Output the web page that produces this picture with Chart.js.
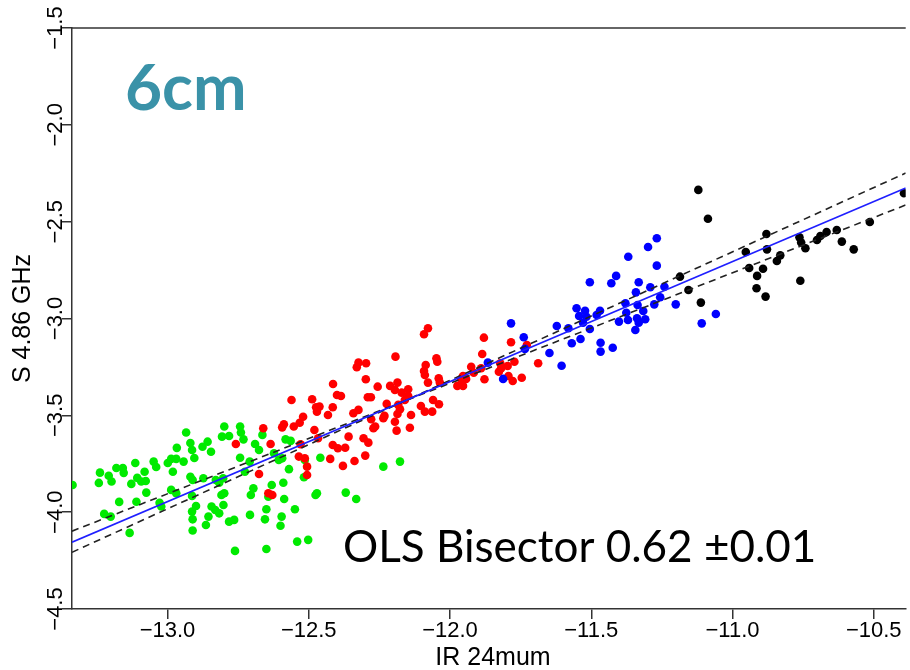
<!DOCTYPE html>
<html lang="en">
<head>
<meta charset="UTF-8">
<title>6cm - OLS Bisector</title>
<script src="https://cdn.jsdelivr.net/npm/chart.js@4"></script>
<style>
  html, body { margin: 0; padding: 0; background: #fff; }
  #wrap { position: relative; width: 910px; height: 670px; }
</style>
</head>
<body>
<div id="wrap"><canvas id="grafico"></canvas></div>
<script>
// axis ticks
const xTicks = [-13.0, -12.5, -12.0, -11.5, -11.0, -10.5];
const yTicks = [-4.5, -4.0, -3.5, -3.0, -2.5, -2.0, -1.5];

// green points
const greenX = [
  -13.336, -13.239, -13.243, -13.208, -13.198, -13.181, -13.158, -13.155, -13.114, -13.128,
  -13.107, -13.093, -13.077, -13.081, -13.049, -13.040, -13.075, -13.171, -13.110, -13.224,
  -13.201, -13.134, -13.028, -13.022, -12.999, -12.987, -12.969, -12.981, -12.967, -12.943,
  -12.934, -12.919, -12.913, -12.905, -12.876, -12.858, -12.846, -12.919, -12.911, -12.873,
  -12.987, -12.969, -12.913, -12.899, -12.913, -12.911, -12.911, -12.864, -12.855, -12.844,
  -12.829, -12.817, -12.803, -12.809, -12.799, -12.831, -12.817, -12.802, -12.782, -12.764,
  -12.761, -12.807, -12.799, -12.782, -12.743, -12.740, -12.731, -12.743, -12.726, -12.709,
  -12.690, -12.676, -12.664, -12.705, -12.696, -12.708, -12.655, -12.650, -12.643, -12.631,
  -12.650, -12.623, -12.606, -12.594, -12.570, -12.582, -12.590, -12.587, -12.596, -12.600,
  -12.549, -12.541, -12.502, -12.514, -12.517, -12.476, -12.471, -12.459, -12.369, -12.332,
  -12.236, -12.177, -12.564
];
const greenY = [
  -3.860, -3.796, -3.849, -3.812, -3.842, -3.772, -3.772, -3.797, -3.746, -3.854,
  -3.823, -3.842, -3.839, -3.791, -3.739, -3.767, -3.899, -3.947, -3.946, -4.009,
  -4.023, -4.107, -3.952, -3.971, -3.746, -3.725, -3.725, -3.791, -3.668, -3.739,
  -3.589, -3.643, -3.679, -3.720, -3.662, -3.636, -3.688, -3.817, -3.834, -3.825,
  -3.885, -3.902, -3.916, -3.968, -3.997, -4.037, -4.095, -4.066, -4.023, -3.971,
  -3.834, -3.848, -3.825, -3.911, -3.902, -3.989, -4.006, -3.963, -4.049, -4.040,
  -4.200, -3.610, -3.558, -3.607, -3.558, -3.589, -3.624, -3.719, -3.791, -3.739,
  -3.648, -3.679, -3.601, -3.911, -3.877, -4.014, -4.037, -3.985, -3.920, -3.860,
  -4.190, -3.696, -3.730, -3.722, -3.778, -3.624, -3.848, -3.932, -4.023, -4.070,
  -3.985, -4.152, -4.143, -3.730, -3.820, -3.911, -3.902, -3.719, -3.899, -3.932,
  -3.765, -3.739, -3.632
];

// red points
const redX = [
  -12.078, -12.092, -12.193, -12.324, -12.297, -12.330, -12.048, -12.045, -12.086, -12.092,
  -12.089, -12.078, -12.040, -12.036, -12.298, -12.414, -12.256, -12.212, -12.195, -12.186,
  -12.171, -12.148, -12.148, -12.160, -12.291, -12.280, -12.224, -12.183, -12.177, -12.186,
  -12.138, -12.103, -12.089, -12.063, -12.060, -12.039, -11.974, -11.954, -11.954, -12.232,
  -12.236, -12.279, -12.265, -12.271, -12.195, -12.189, -12.142, -12.306, -12.289, -12.300,
  -12.338, -12.379, -12.424, -12.359, -12.415, -12.397, -12.371, -12.467, -12.480, -12.474,
  -12.462, -12.471, -12.432, -12.488, -12.415, -12.400, -12.386, -12.561, -12.520, -12.532,
  -12.553, -12.594, -12.588, -12.661, -12.635, -12.758, -12.676, -12.535, -12.514, -12.506,
  -12.506, -12.529, -12.342, -12.324, -12.643, -12.629, -11.880, -11.784, -11.886, -11.728,
  -11.925, -11.916, -11.890, -11.943, -11.960, -11.878, -11.822, -11.819, -11.827, -11.796,
  -11.772, -11.793, -11.778, -11.746, -11.688
];
const redY = [
  -3.050, -3.081, -3.197, -3.228, -3.231, -3.252, -3.205, -3.223, -3.240, -3.271,
  -3.292, -3.331, -3.309, -3.331, -3.314, -3.338, -3.352, -3.348, -3.369, -3.331,
  -3.383, -3.365, -3.400, -3.421, -3.407, -3.407, -3.441, -3.446, -3.469, -3.493,
  -3.498, -3.452, -3.481, -3.481, -3.421, -3.443, -3.348, -3.348, -3.297, -3.503,
  -3.515, -3.520, -3.558, -3.567, -3.533, -3.579, -3.564, -3.618, -3.641, -3.708,
  -3.736, -3.761, -3.725, -3.610, -3.653, -3.670, -3.667, -3.618, -3.576, -3.458,
  -3.455, -3.481, -3.498, -3.417, -3.458, -3.395, -3.400, -3.421, -3.507, -3.538,
  -3.558, -3.562, -3.546, -3.567, -3.648, -3.648, -3.803, -3.713, -3.722, -3.765,
  -3.808, -3.649, -3.489, -3.472, -3.902, -3.911, -3.099, -3.123, -3.183, -3.137,
  -3.249, -3.280, -3.257, -3.312, -3.312, -3.314, -3.231, -3.257, -3.275, -3.245,
  -3.223, -3.297, -3.323, -3.306, -3.231
];

// blue points
const blueX = [
  -11.784, -11.739, -11.735, -11.866, -11.812, -11.648, -11.605, -11.622, -11.581, -11.569,
  -11.538, -11.268, -11.299, -11.369, -11.268, -11.412, -11.429, -11.505, -11.332, -11.291,
  -11.241, -11.342, -11.256, -11.277, -11.201, -11.379, -11.336, -11.376, -11.316, -11.370,
  -11.338, -11.309, -11.332, -11.344, -11.402, -11.469, -11.481, -11.552, -11.522, -11.543,
  -11.517, -11.529, -11.505, -11.467, -11.467, -11.424, -11.109, -11.059
];
const blueY = [
  -3.025, -3.097, -3.157, -3.228, -3.312, -3.178, -3.244, -3.039, -3.050, -3.128,
  -3.106, -2.586, -2.631, -2.681, -2.727, -2.780, -2.818, -2.813, -2.813, -2.839,
  -2.836, -2.865, -2.890, -2.927, -2.927, -2.921, -2.930, -2.970, -2.961, -3.008,
  -2.999, -3.004, -3.022, -3.059, -3.016, -2.960, -2.982, -2.947, -2.960, -2.987,
  -2.991, -3.022, -3.054, -3.125, -3.171, -3.151, -3.025, -2.977
];

// black points
const blackX = [
  -11.121, -11.087, -11.186, -11.156, -11.112, -10.953, -10.941, -10.913, -10.892, -10.915,
  -10.883, -10.880, -10.878, -10.843, -10.831, -10.763, -10.757, -10.742, -10.760, -10.701,
  -10.689, -10.667, -10.631, -10.613, -10.571, -10.514, -10.393
];
const blackY = [
  -2.336, -2.485, -2.784, -2.853, -2.918, -2.657, -2.739, -2.780, -2.743, -2.844,
  -2.887, -2.564, -2.643, -2.703, -2.674, -2.581, -2.608, -2.637, -2.805, -2.595,
  -2.574, -2.553, -2.543, -2.603, -2.643, -2.502, -2.353
];

// fitted line and the two dashed slope-error lines (end points)
const fitX = [-13.338, -10.387];
const fitY = [-4.155, -2.326];
const dashAY = [-4.098, -2.414];
const dashBY = [-4.207, -2.249];

const pts = (xs, ys) => xs.map((x, i) => ({ x: x, y: ys[i] }));
const fmt = v => (v < 0 ? '\u2212' : '') + Math.abs(v).toFixed(1);

const AXIS = '#333';
const FONT = '"Liberation Sans", Arial, sans-serif';

const textos = {
  id: 'textos',
  afterDraw(chart) {
    const { ctx, chartArea: a, scales: { x, y } } = chart;
    ctx.save();
    // top of the box
    ctx.strokeStyle = AXIS;
    ctx.lineWidth = 1.5;
    ctx.beginPath();
    ctx.moveTo(a.left, a.top);
    ctx.lineTo(a.right, a.top);
    ctx.stroke();

    ctx.fillStyle = '#000';
    ctx.font = '22px ' + FONT;
    ctx.textAlign = 'center';
    ctx.textBaseline = 'alphabetic';
    xTicks.forEach(v => ctx.fillText(fmt(v), x.getPixelForValue(v), 637));
    yTicks.forEach(v => {
      ctx.save();
      ctx.translate(62, y.getPixelForValue(v));
      ctx.rotate(-Math.PI / 2);
      ctx.fillText(fmt(v), 0, 0);
      ctx.restore();
    });

    // axis titles
    ctx.font = '25px ' + FONT;
    ctx.fillText('IR 24mum', 493, 665);
    ctx.save();
    ctx.translate(30, (a.top + a.bottom) / 2);
    ctx.rotate(-Math.PI / 2);
    ctx.fillText('S 4.86 GHz', 0, 0);
    ctx.restore();

    // big labels
    ctx.textAlign = 'left';
    ctx.fillStyle = '#3A92A8';
    ctx.font = 'bold 64px Lato, "Open Sans", sans-serif';
    ctx.fillText('6cm', 125, 110);
    ctx.fillStyle = '#000';
    ctx.font = '44px Lato, "Open Sans", sans-serif';
    ctx.fillText('OLS Bisector 0.62 \u00B10.01', 343, 562);
    ctx.restore();
  }
};

const ponto = (label, xs, ys, cor) => ({
  label: label,
  data: pts(xs, ys),
  backgroundColor: cor,
  borderColor: cor,
  borderWidth: 0,
  pointRadius: 4.3,
  order: 2
});
const linha = (label, ys, cor, dash) => ({
  label: label,
  data: pts(fitX, ys),
  showLine: true,
  borderColor: cor,
  borderWidth: 1.6,
  borderDash: dash,
  pointRadius: 0,
  order: 1
});

new Chart(document.getElementById('grafico'), {
  type: 'scatter',
  data: {
    datasets: [
      linha('fit', fitY, '#1f1fff', []),
      linha('upper', dashAY, '#222', [7, 5]),
      linha('lower', dashBY, '#222', [7, 5]),
      ponto('black', blackX, blackY, '#000000'),
      ponto('blue', blueX, blueY, '#0000ff'),
      ponto('red', redX, redY, '#ff0000'),
      ponto('green', greenX, greenY, '#00ea00')
    ]
  },
  options: {
    responsive: true,
    maintainAspectRatio: false,
    animation: false,
    layout: { padding: { top: 28, right: 0, left: 0, bottom: 0 } },
    plugins: { legend: { display: false }, tooltip: { enabled: false } },
    scales: {
      x: {
        type: 'linear',
        min: -13.338,
        max: -10.387,
        afterBuildTicks: s => { s.ticks = xTicks.map(v => ({ value: v })); },
        afterFit: s => { s.height = 61; },
        ticks: { display: false },
        grid: { drawOnChartArea: false, drawTicks: true, tickLength: 10, color: AXIS, lineWidth: 1.5 },
        border: { display: true, color: AXIS, width: 1.5 }
      },
      y: {
        type: 'linear',
        min: -4.5,
        max: -1.5,
        afterBuildTicks: s => { s.ticks = yTicks.map(v => ({ value: v })); },
        afterFit: s => { s.width = 72; },
        ticks: { display: false },
        grid: { drawOnChartArea: false, drawTicks: true, tickLength: 10, color: AXIS, lineWidth: 1.5 },
        border: { display: true, color: AXIS, width: 1.5 }
      }
    }
  },
  plugins: [textos]
});
</script>
</body>
</html>
